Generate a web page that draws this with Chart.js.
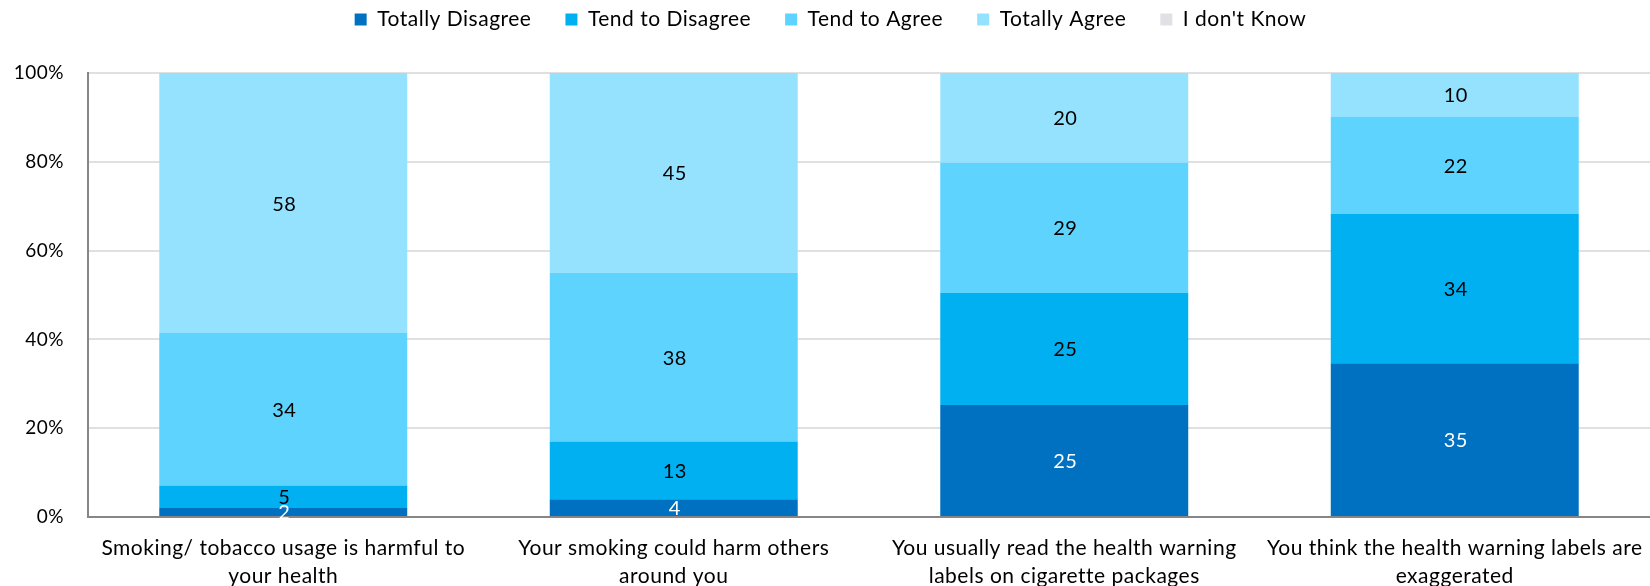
<!DOCTYPE html>
<html>
<head>
<meta charset="utf-8">
<script src="https://cdn.jsdelivr.net/npm/chart.js@4.4.1/dist/chart.umd.min.js"></script>
<style>
    html, body { margin: 0; padding: 0; background: #ffffff; }
    #wrap { width: 1650px; height: 586px; position: relative; }
</style>
</head>
<body>
<div id="wrap"><canvas id="agreeChart"></canvas></div>
<script>
// Statements (x axis, wrapped)
const statements = [
    ['Smoking/ tobacco usage is harmful to', 'your health'],
    ['Your smoking could harm others', 'around you'],
    ['You usually read the health warning', 'labels on cigarette packages'],
    ['You think the health warning labels are', 'exaggerated']
];

// Answer shares per statement
const totallyDisagree = [2, 4, 25, 35];
const tendToDisagree = [5, 13, 25, 34];
const tendToAgree = [34, 38, 29, 22];
const totallyAgree = [58, 45, 20, 10];
const dontKnow = [0, 0, 0, 0];

const yTicks = [0, 20, 40, 60, 80, 100];

const series = [
    { label: 'Totally Disagree', values: totallyDisagree, color: '#0070C0', text: '#ffffff' },
    { label: 'Tend to Disagree', values: tendToDisagree, color: '#00B0F0', text: '#000000' },
    { label: 'Tend to Agree', values: tendToAgree, color: '#5DD3FE', text: '#000000' },
    { label: 'Totally Agree', values: totallyAgree, color: '#95E2FF', text: '#000000' },
    { label: "I don't Know", values: dontKnow, color: '#E0E1E4', text: '#000000' }
];

// 100% stacked: scale each column to its total
const totals = statements.map((s, i) => series.reduce((sum, d) => sum + d.values[i], 0));

const FONT = 'Lato, "Open Sans", sans-serif';
const SPACING = '0.5px';

// the reference text is a bit letter-spaced; canvas state gets reset on resize
const letterSpacing = {
    id: 'letterSpacing',
    beforeUpdate(chart) { chart.ctx.letterSpacing = SPACING; },
    beforeLayout(chart) { chart.ctx.letterSpacing = SPACING; },
    beforeDraw(chart) { chart.ctx.letterSpacing = SPACING; }
};

// more room between the legend and the plot
const legendSpacer = {
    id: 'legendSpacer',
    beforeInit(chart) {
        const fit = chart.legend.fit;
        chart.legend.fit = function () {
            fit.call(this);
            this.height += 33;
        };
    }
};

// Value labels in the middle of each segment
const segmentLabels = {
    id: 'segmentLabels',
    afterDatasetsDraw(chart) {
        const ctx = chart.ctx;
        ctx.save();
        ctx.font = '20px ' + FONT;
        ctx.textAlign = 'center';
        ctx.textBaseline = 'middle';
        chart.data.datasets.forEach((ds, di) => {
            const meta = chart.getDatasetMeta(di);
            meta.data.forEach((bar, i) => {
                const raw = ds.rawValues[i];
                if (!raw) return;
                ctx.fillStyle = ds.labelColor;
                ctx.fillText(String(raw), bar.x + 1, (bar.y + bar.base) / 2 + 1);
            });
        });
        ctx.restore();
    }
};

const ctx = document.getElementById('agreeChart').getContext('2d');
const chart = new Chart(ctx, {
    type: 'bar',
    data: {
        labels: statements,
        datasets: series.map(s => ({
            label: s.label,
            data: s.values.map((v, i) => v / totals[i] * 100),
            rawValues: s.values,
            labelColor: s.text,
            backgroundColor: s.color,
            borderWidth: 0,
            barPercentage: 0.635,
            categoryPercentage: 1.0
        }))
    },
    options: {
        responsive: true,
        maintainAspectRatio: false,
        animation: false,
        layout: {
            padding: { left: 11, right: 0, top: -25, bottom: 0 }
        },
        plugins: {
            legend: {
                display: true,
                position: 'top',
                labels: {
                    color: '#000000',
                    boxWidth: 12,
                    boxHeight: 12,
                    padding: 34,
                    font: { family: FONT, size: 21 }
                }
            },
            tooltip: { enabled: false }
        },
        scales: {
            x: {
                stacked: true,
                grid: { display: false, drawTicks: false },
                border: { display: true, color: '#868686', width: 2 },
                afterFit(scale) {
                    scale.paddingLeft = 0;
                    scale.paddingRight = 0;
                    scale.height = 69;
                },
                ticks: {
                    color: '#000000',
                    maxRotation: 0,
                    autoSkip: false,
                    padding: 17,
                    font: { family: FONT, size: 21, lineHeight: 1.333 }
                }
            },
            y: {
                stacked: true,
                min: 0,
                max: 100,
                afterBuildTicks(axis) {
                    axis.ticks = yTicks.map(v => ({ value: v }));
                },
                afterFit(scale) {
                    scale.width = 77;
                },
                grid: { color: '#E0E0E0', lineWidth: 2, drawTicks: false },
                border: { display: true, color: '#868686', width: 2 },
                ticks: {
                    color: '#000000',
                    padding: 24,
                    font: { family: FONT, size: 19 },
                    callback: v => v + '%'
                }
            }
        }
    },
    plugins: [letterSpacing, legendSpacer, segmentLabels]
});
</script>
</body>
</html>
